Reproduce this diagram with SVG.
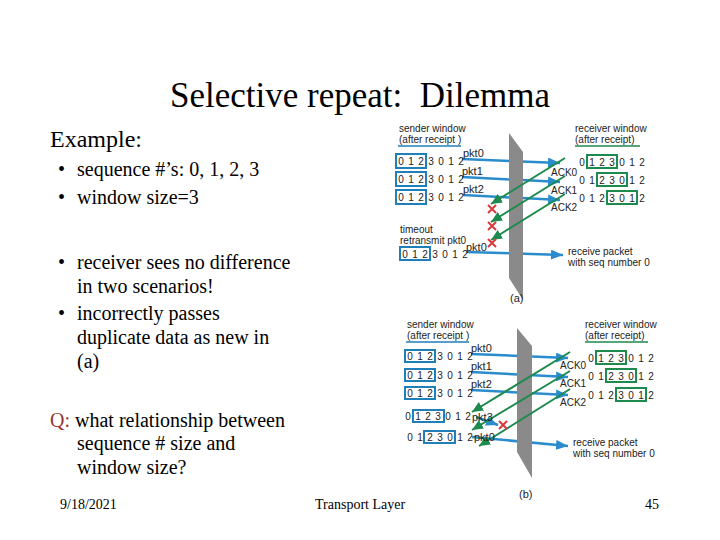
<svg xmlns="http://www.w3.org/2000/svg" width="720" height="540" viewBox="0 0 720 540">
<style>
.serif{font-family:"Liberation Serif","Times New Roman",serif;fill:#000}
.t{font-family:"Liberation Sans",Arial,sans-serif;font-size:10px;fill:#222}
.d{font-family:"Liberation Sans",Arial,sans-serif;font-size:10px;fill:#222;text-anchor:middle}
.pk{font-family:"Liberation Sans",Arial,sans-serif;font-size:11px;fill:#222}
.bbox{fill:none;stroke:#1f7fb8;stroke-width:2}
.gbox{fill:none;stroke:#1d8a4e;stroke-width:2}
.blue{stroke:#2a8ccc;stroke-width:2.5;fill:none}
.green{stroke:#1d8a4e;stroke-width:2;fill:none}
.wall{fill:#8a8a8a}
.x{stroke:#d93a3a;stroke-width:2}
</style>
<defs>
<marker id="ab" markerUnits="userSpaceOnUse" markerWidth="12" markerHeight="10" refX="12" refY="5" orient="auto"><path d="M0,0 L12,5 L0,10 z" fill="#2a8ccc"/></marker>
<marker id="ag" markerUnits="userSpaceOnUse" markerWidth="11" markerHeight="10" refX="11" refY="5" orient="auto"><path d="M0,0 L11,5 L0,10 z" fill="#1d8a4e"/></marker>
</defs>
<rect width="720" height="540" fill="#fff"/>

<g id="title"><text class="serif" x="360" y="107" font-size="35" text-anchor="middle">Selective repeat:&#160; Dilemma</text></g>

<g id="leftText" class="serif" font-size="20">
<text x="50" y="147" font-size="24">Example:</text>
<text x="58" y="176">•</text><text x="77" y="176">sequence #’s: 0, 1, 2, 3</text>
<text x="58" y="204">•</text><text x="77" y="204">window size=3</text>
<text x="58" y="269">•</text><text x="77" y="269">receiver sees no difference</text>
<text x="77" y="293">in two scenarios!</text>
<text x="58" y="320">•</text><text x="77" y="320">incorrectly passes</text>
<text x="77" y="344">duplicate data as new in</text>
<text x="77" y="368">(a)</text>
<text x="50" y="427"><tspan fill="#993333">Q:</tspan> what relationship between</text>
<text x="77" y="450">sequence # size and</text>
<text x="77" y="474">window size?</text>
</g>

<g id="footer" class="serif" font-size="14">
<text x="60" y="509">9/18/2021</text>
<text x="315" y="509">Transport Layer</text>
<text x="645" y="509">45</text>
</g>

<g id="connectors">
<g id="blueA">
<line class="blue" x1="462" y1="159" x2="560" y2="163" marker-end="url(#ab)"/>
<line class="blue" x1="462" y1="177" x2="560" y2="182" marker-end="url(#ab)"/>
<line class="blue" x1="463" y1="195" x2="560" y2="200" marker-end="url(#ab)"/>
<line class="blue" x1="467" y1="252" x2="563" y2="255" marker-end="url(#ab)"/>
</g>
<g id="blueB">
<line class="blue" x1="471" y1="354" x2="568" y2="358" marker-end="url(#ab)"/>
<line class="blue" x1="471" y1="372" x2="568" y2="377" marker-end="url(#ab)"/>
<line class="blue" x1="471" y1="390" x2="568" y2="395" marker-end="url(#ab)"/>
<line class="blue" x1="472" y1="437" x2="568" y2="446" marker-end="url(#ab)"/>
<line class="blue" x1="476" y1="417" x2="498" y2="425" marker-end="url(#ab)"/>
</g>
</g>

<g id="wallA"><polygon class="wall" points="509,133 523,152 523,300 509,278"/></g>
<g id="wallB"><polygon class="wall" points="517,328 532,346 532,478 517,452"/></g>

<g id="greenArrows">
<line class="green" x1="565" y1="158" x2="491" y2="204" marker-end="url(#ag)"/>
<line class="green" x1="565" y1="176" x2="491" y2="222" marker-end="url(#ag)"/>
<line class="green" x1="565" y1="194" x2="491" y2="240" marker-end="url(#ag)"/>
<line class="green" x1="570" y1="352" x2="472" y2="412" marker-end="url(#ag)"/>
<line class="green" x1="570" y1="371" x2="472" y2="430" marker-end="url(#ag)"/>
<line class="green" x1="570" y1="389" x2="479" y2="446" marker-end="url(#ag)"/>
</g>

<g id="losses">
<path class="x" d="M488,205 L496,213 M496,205 L488,213"/>
<path class="x" d="M488,222 L496,230 M496,222 L488,230"/>
<path class="x" d="M488,239 L496,247 M496,239 L488,247"/>
<path class="x" d="M499,421 L507,429 M507,421 L499,429"/>
</g>

<g id="diagramA">
<g id="senderA">
<text class="t" x="399" y="132">sender window</text>
<text class="t" x="399" y="143">(after receipt )</text>
<line x1="398" y1="146" x2="461" y2="146" stroke="#1f7fb8" stroke-width="1.5"/>
<rect class="bbox" x="396" y="154" width="30" height="14"/>
<rect class="bbox" x="396" y="172" width="30" height="14"/>
<rect class="bbox" x="396" y="190" width="30" height="14"/>
<text class="d" x="401 411 421 431 441 451 461" y="164.5">0123012</text>
<text class="d" x="401 411 421 431 441 451 461" y="182.5">0123012</text>
<text class="d" x="401 411 421 431 441 451 461" y="200.5">0123012</text>
<text class="pk" x="463" y="157">pkt0</text>
<text class="pk" x="462" y="175">pkt1</text>
<text class="pk" x="463" y="193">pkt2</text>
<text class="t" x="400" y="233">timeout</text>
<text class="t" x="400" y="244">retransmit pkt0</text>
<text class="pk" x="466" y="251">pkt0</text>
<rect class="bbox" x="400" y="247" width="30" height="13"/>
<text class="d" x="405 415 425 435 445 455 465" y="257.5">0123012</text>
</g>
<g id="receiverA">
<text class="t" x="575" y="132">receiver window</text>
<text class="t" x="575" y="143">(after receipt)</text>
<line x1="575" y1="146" x2="640" y2="146" stroke="#1d8a4e" stroke-width="1.5"/>
<rect class="gbox" x="587" y="155" width="30" height="13"/>
<rect class="gbox" x="597" y="173" width="30" height="13"/>
<rect class="gbox" x="607" y="191" width="30" height="13"/>
<text class="d" x="582 592 602 612 622 632 642" y="165.5">0123012</text>
<text class="d" x="582 592 602 612 622 632 642" y="183.5">0123012</text>
<text class="d" x="582 592 602 612 622 632 642" y="201.5">0123012</text>
<text class="t" x="551" y="176">ACK0</text>
<text class="t" x="551" y="194">ACK1</text>
<text class="t" x="551" y="211">ACK2</text>
<text class="t" x="568" y="255">receive packet</text>
<text class="t" x="568" y="266">with seq number 0</text>
</g>
<text class="pk" x="510" y="302">(a)</text>
</g>

<g id="diagramB">
<g id="senderB">
<text class="t" x="407" y="328">sender window</text>
<text class="t" x="407" y="339">(after receipt )</text>
<line x1="406" y1="342" x2="469" y2="342" stroke="#1f7fb8" stroke-width="1.5"/>
<rect class="bbox" x="405" y="350" width="30" height="12"/>
<rect class="bbox" x="405" y="369" width="30" height="12"/>
<rect class="bbox" x="405" y="387" width="30" height="12"/>
<text class="d" x="410 420 430 440 450 460 470" y="359.5">0123012</text>
<text class="d" x="410 420 430 440 450 460 470" y="378.5">0123012</text>
<text class="d" x="410 420 430 440 450 460 470" y="396.5">0123012</text>
<text class="pk" x="471" y="352">pkt0</text>
<text class="pk" x="471" y="370">pkt1</text>
<text class="pk" x="471" y="388">pkt2</text>
<rect class="bbox" x="413" y="410" width="31" height="12"/>
<text class="d" x="408 418 428 438 448 458 468" y="419.5">0123012</text>
<text class="pk" x="472" y="421">pkt3</text>
<rect class="bbox" x="424" y="431" width="31" height="12"/>
<text class="d" x="410 420 430 440 450 460 470" y="440.5">0123012</text>
<text class="pk" x="474" y="441">pkt0</text>
</g>
<g id="receiverB">
<text class="t" x="585" y="328">receiver window</text>
<text class="t" x="585" y="339">(after receipt)</text>
<line x1="585" y1="342" x2="648" y2="342" stroke="#1d8a4e" stroke-width="1.5"/>
<rect class="gbox" x="596" y="351" width="30" height="13"/>
<rect class="gbox" x="606" y="369" width="30" height="13"/>
<rect class="gbox" x="616" y="388" width="30" height="13"/>
<text class="d" x="591 601 611 621 631 641 651" y="361.5">0123012</text>
<text class="d" x="591 601 611 621 631 641 651" y="379.5">0123012</text>
<text class="d" x="591 601 611 621 631 641 651" y="398.5">0123012</text>
<text class="t" x="560" y="369">ACK0</text>
<text class="t" x="560" y="387">ACK1</text>
<text class="t" x="560" y="406">ACK2</text>
<text class="t" x="573" y="446">receive packet</text>
<text class="t" x="573" y="457">with seq number 0</text>
</g>
<text class="pk" x="519" y="498">(b)</text>
</g>
</svg>
